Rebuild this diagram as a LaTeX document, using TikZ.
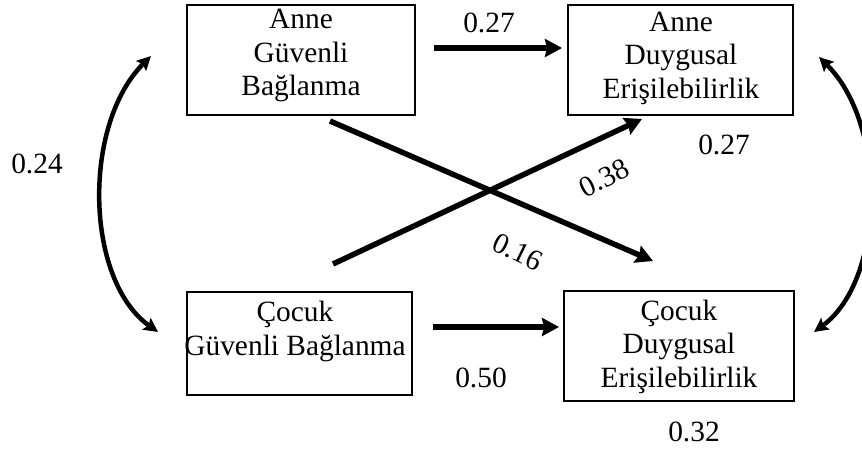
\documentclass[tikz,border=0pt]{standalone}
\usepackage{fontspec}
\setmainfont{Liberation Serif}
\usetikzlibrary{arrows.meta}
\begin{document}
\begin{tikzpicture}[x=1pt,y=-1pt,
  box/.style={draw, line width=2pt, rectangle, inner sep=0pt},
  txt/.style={font=\fontsize{29.4}{33.3}\selectfont, align=center, inner sep=0pt, anchor=base},
  num/.style={font=\fontsize{29.4}{33.3}\selectfont, inner sep=0pt},
  arr/.style={line width=5.5pt, -{Stealth[length=17pt,width=18pt,inset=2pt]}},
  carr/.style={line width=4.5pt, {Stealth[length=14pt,width=14pt,inset=2.5pt]}-{Stealth[length=14pt,width=14pt,inset=2.5pt]}}
]
\useasboundingbox (0,0) rectangle (862,452);
\clip (0,0) rectangle (862,452);

% boxes
\node[box, minimum width=228pt, minimum height=110pt] (A) at (301,60) {};
\node[box, minimum width=225pt, minimum height=110pt] (B) at (680.5,60) {};
\node[box, minimum width=225pt, minimum height=103pt] (C) at (299.5,343.5) {};
\node[box, minimum width=230pt, minimum height=110pt] (D) at (679,346) {};

% box texts (anchor = baseline of the last line)
\node[txt] (At) at (301,95.5) {Anne\\Güvenli\\Bağlanma};
\node[txt] (Bt) at (681,98) {Anne\\Duygusal\\Erişilebilirlik};
\node[txt] (Ct) at (295,355) {Çocuk\\Güvenli Bağlanma};
\node[txt] (Dt) at (679,387) {Çocuk\\Duygusal\\Erişilebilirlik};

% straight arrows
\draw[arr, shorten <=18pt, shorten >=5pt] ([yshift=12pt]A.east) -- ([yshift=12pt]A.east -| B.west);
\draw[arr, shorten <=20pt, shorten >=4pt] ([yshift=16.5pt]C.east) -- ([yshift=16.5pt]C.east -| D.west);
\draw[arr] ([xshift=29pt,yshift=-5pt]A.south) -- ([xshift=-26pt,yshift=29pt]D.north);
\draw[arr] ([xshift=33.5pt,yshift=27pt]C.north) -- ([xshift=-38.5pt,yshift=-3pt]B.south);

% curved double arrows
\draw[carr] ([xshift=-35pt,yshift=4pt]A.west) .. controls (82,125) and (85,280) .. ([xshift=-28pt,yshift=11.5pt]C.west);
\draw[carr] ([xshift=25pt,yshift=3pt]B.east) .. controls (888,125) and (885,280) .. ([xshift=19pt,yshift=14pt]D.east);

% labels
\node[num] (l1) at (489,23) {0.27};
\node[num] (l2) at (724,145) {0.27};
\node[num] (l3) at (481,378) {0.50};
\node[num] (l4) at (694,432) {0.32};
\node[num] (l5) at (37,164) {0.24};
\node[num, rotate=27] (l6) at (604,178) {0.38};
\node[num, rotate=-26] (l7) at (518,252) {0.16};
\end{tikzpicture}
\end{document}
